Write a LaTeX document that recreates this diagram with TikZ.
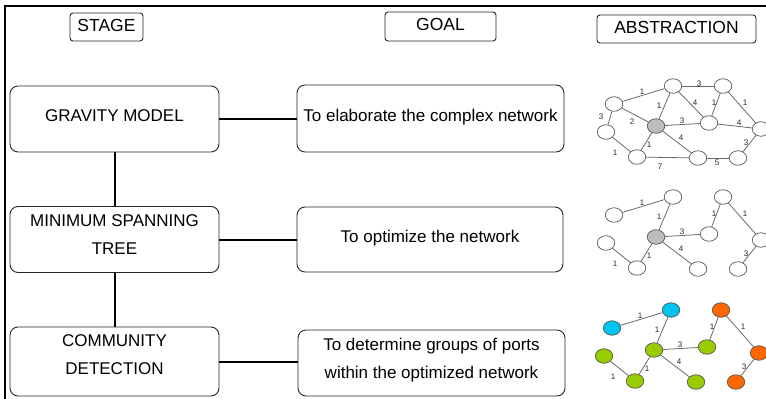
\documentclass[tikz,border=0pt]{standalone}
\usepackage{fontspec}
\setmainfont{Liberation Sans}
\usetikzlibrary{shapes.geometric}
\definecolor{edgegray}{HTML}{6A6A6A}
\definecolor{nodeline}{HTML}{555555}
\definecolor{hubgray}{HTML}{BDBDBD}
\definecolor{skyblue}{HTML}{00C3F0}
\definecolor{leafgreen}{HTML}{99CC00}
\definecolor{portorange}{HTML}{FF6600}
\tikzset{
  stagebox/.style={draw=black!85, line width=0.9pt, rounded corners=8pt,
    align=center, inner sep=0pt, font=\fontsize{17}{28}\selectfont},
  headbox/.style={draw=black!85, line width=0.9pt, rounded corners=3pt,
    inner sep=0pt, text depth=4pt, font=\fontsize{17.5}{20}\selectfont},
  link/.style={line width=2pt},
  gnode/.style={ellipse, draw=nodeline, line width=0.7pt, minimum width=17.5pt,
    minimum height=14.5pt, inner sep=0pt, fill=white},
  gedge/.style={draw=edgegray, line width=0.8pt},
  wlabel/.style={font=\fontsize{8}{9}\selectfont, inner sep=0pt, text=black!85},
  nA/.style={}, nB/.style={}, nC/.style={}, nD/.style={}, nE/.style={},
  nF/.style={}, nG/.style={}, nH/.style={}, nI/.style={}, nJ/.style={},
}
% weighted edge: prefix, from, to, weight, label position
\newcommand\wlink[6]{\draw[gedge] (#1#2) -- (#1#3) node[wlabel, at={(#5,#6)}] {#4};}
\newcommand\portnodes[1]{%
  \foreach \n/\x/\y in {A/614/104, B/673/86, C/723/86, D/606/132, G/656/126,
                        E/709/123, F/761/129, H/637/157, I/698/158, J/738/158}
    \node[gnode, n\n] (#1\n) at (\x,\y) {};}
% edges kept by the minimum spanning tree
\newcommand\treeedges[1]{%
  \wlink{#1}{A}{B}{1}{642}{92}
  \wlink{#1}{B}{G}{1}{659}{106}
  \wlink{#1}{G}{E}{3}{682}{121}
  \wlink{#1}{G}{I}{4}{681}{138}
  \wlink{#1}{G}{H}{1}{649}{145}
  \wlink{#1}{D}{H}{1}{615}{153}
  \wlink{#1}{C}{E}{1}{714}{103}
  \wlink{#1}{C}{F}{1}{745}{103}
  \wlink{#1}{J}{F}{3}{746}{143}}
\begin{document}
\begin{tikzpicture}[x=1pt, y=-1pt]
\useasboundingbox (0,0) rectangle (766,399);
\clip (0,0) rectangle (766,399);

% frame
\draw[line width=2.6pt] (770,6) -- (5,6) -- (5,403);

% column headers
\node[headbox, minimum width=73pt, minimum height=28pt] (hstage) at (106.5,27) {STAGE};
\node[headbox, minimum width=111pt, minimum height=29pt] (hgoal) at (440.5,26.5) {GOAL};
\node[headbox, minimum width=159pt, minimum height=28pt] (habs) at (676.5,29) {ABSTRACTION};

% stages
\node[stagebox, minimum width=209pt, minimum height=66pt, text depth=7pt] (s1) at (114.5,119) {GRAVITY MODEL};
\node[stagebox, minimum width=209pt, minimum height=66pt, text depth=10pt] (s2) at (114.5,239.5) {MINIMUM SPANNING\\TREE};
\node[stagebox, minimum width=209pt, minimum height=69pt, text depth=13pt] (s3) at (114.5,361.5) {COMMUNITY\\DETECTION};

% goals
\node[stagebox, minimum width=267pt, minimum height=67pt, text depth=7pt] (g1) at (430.5,118.5) {To elaborate the complex network};
\node[stagebox, minimum width=266pt, minimum height=65pt, text depth=7pt] (g2) at (430,239.5) {To optimize the network};
\node[stagebox, minimum width=267pt, minimum height=66pt, text depth=10pt] (g3) at (431.5,363) {To determine groups of ports\\within the optimized network};

% connectors
\draw[link] (s1.south) -- (s2.north);
\draw[link] (s2.south) -- (s3.north);
\draw[link] (s1.east) -- (s1.east -| g1.west);
\draw[link] (s2.east) -- (s2.east -| g2.west);
\draw[link] (s3.east) -- (s3.east -| g3.west);

% complete network
\begin{scope}[nG/.style={fill=hubgray}]
  \portnodes{a}
  \treeedges{a}
  \wlink{a}{A}{D}{3}{601}{117}
  \wlink{a}{A}{G}{2}{632}{122}
  \wlink{a}{B}{C}{3}{699}{84}
  \wlink{a}{B}{E}{4}{695}{103}
  \wlink{a}{E}{F}{4}{739}{123}
  \wlink{a}{H}{I}{7}{660}{167}
  \wlink{a}{I}{J}{5}{717}{163}
\end{scope}

% spanning tree
\begin{scope}[shift={(0,111)}, nG/.style={fill=hubgray}]
  \portnodes{b}
  \treeedges{b}
\end{scope}

% communities
\begin{scope}[shift={(-2,224)},
    nA/.style={fill=skyblue}, nB/.style={fill=skyblue},
    nC/.style={fill=portorange}, nF/.style={fill=portorange}, nJ/.style={fill=portorange},
    nD/.style={fill=leafgreen}, nG/.style={fill=leafgreen}, nH/.style={fill=leafgreen},
    nI/.style={fill=leafgreen}, nE/.style={fill=leafgreen}]
  \portnodes{c}
  \treeedges{c}
\end{scope}
\end{tikzpicture}
\end{document}
